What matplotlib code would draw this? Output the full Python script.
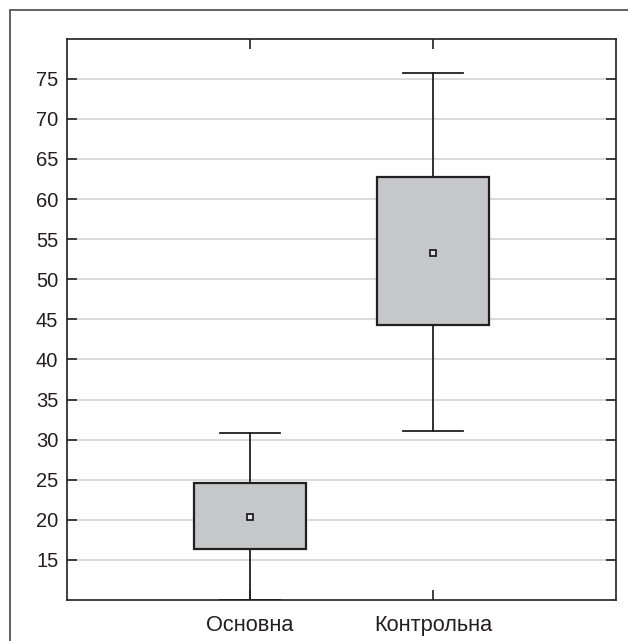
import matplotlib
matplotlib.use("Agg")
import matplotlib.pyplot as plt
from matplotlib.patches import Rectangle

plt.rcParams['font.family'] = ['Liberation Sans', 'DejaVu Sans']

groups = ['Основна', 'Контрольна']
means = [20.4, 53.3]
q1 = [16.3, 44.3]
q3 = [24.6, 62.7]
whisk_low = [10.0, 31.1]
whisk_high = [30.8, 75.7]
y_ticks = [15, 20, 25, 30, 35, 40, 45, 50, 55, 60, 65, 70, 75]

stats = []
for i, name in enumerate(groups):
    stats.append({
        'label': name,
        'mean': means[i],
        'med': means[i],
        'q1': q1[i],
        'q3': q3[i],
        'whislo': whisk_low[i],
        'whishi': whisk_high[i],
        'fliers': [],
    })

fig = plt.figure(figsize=(6.28, 6.41), dpi=100)
ax = fig.add_axes([67 / 628, 41 / 641, 549 / 628, 561.3 / 641])

dark = '#231f20'
ax.bxp(stats, positions=[1, 2], widths=0.61, capwidths=0.33,
       showmeans=True, patch_artist=True,
       boxprops=dict(facecolor='#c6c7c9', edgecolor=dark, linewidth=1.6),
       whiskerprops=dict(color=dark, linewidth=1.3),
       capprops=dict(color=dark, linewidth=1.3),
       medianprops=dict(linewidth=0),
       meanprops=dict(marker='s', markersize=5, markerfacecolor='#e4e4e4',
                      markeredgecolor=dark, markeredgewidth=1.3),
       zorder=3)

ax.set_xlim(0, 3)
ax.set_ylim(10, 80)
ax.set_yticks(y_ticks)
ax.set_xticks([1, 2])
ax.set_xticklabels(groups, fontsize=15.7)
ax.yaxis.grid(True, color='#d4d4d4', linewidth=1.2)
ax.set_axisbelow(True)

ax.tick_params(axis='both', direction='in', length=7, width=1.2, color=dark,
               labelcolor='#231f20', top=True, right=True)
ax.tick_params(axis='y', pad=6.3, labelsize=14.5)
ax.tick_params(axis='x', pad=10.5)
for sp in ax.spines.values():
    sp.set_color(dark)
    sp.set_linewidth(1.2)

frame = Rectangle((10 / 628, -0.2), 1.2, 0.2 + (641 - 10) / 641,
                  transform=fig.transFigure, fill=False,
                  edgecolor='#555555', linewidth=1.3)
fig.patches.append(frame)

fig.savefig('out.png', dpi=100)
